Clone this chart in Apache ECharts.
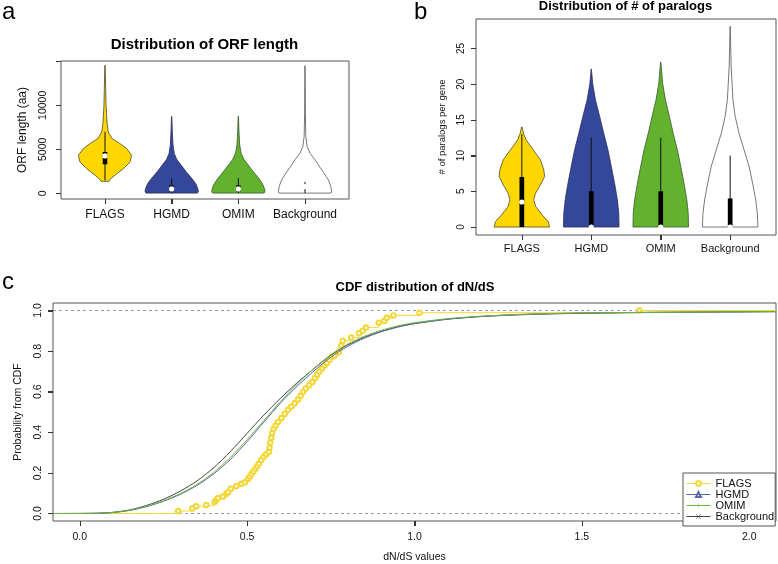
<!DOCTYPE html>
<html><head><meta charset="utf-8">
<script src="https://cdn.jsdelivr.net/npm/echarts@6/dist/echarts.min.js"></script>
<style>html,body{margin:0;padding:0;background:#fff}#c{width:778px;height:564px}</style>
</head><body><div id="c"></div>
<script>
// ---------- Panel a: ORF length ----------
const orfCategories = ['FLAGS', 'HGMD', 'OMIM', 'Background'];
const orfCategoryTicks = [1, 2, 3, 4];
const orfTicks = [0, 5000, 10000, 15000];
const orfTickLabels = [0, 5000, 10000];
// [value, relative density width]
const orfFLAGS = [[1360,0.15],[1590,0.19],[2045,0.37],[2800,0.69],[3560,0.94],[4320,1.0],[5080,0.81],[5650,0.56],[6210,0.27],[6970,0.12],[8100,0.075],[10000,0.04],[11890,0.025],[14540,0.008]];
const orfHGMD = [[20,0.96],[150,1.0],[530,0.98],[1100,0.9],[1670,0.76],[2420,0.55],[3180,0.36],[3800,0.2],[4500,0.1],[5500,0.05],[7000,0.025],[8750,0.005]];
const orfOMIM = [[20,0.96],[150,1.0],[530,0.98],[1100,0.9],[1670,0.77],[2420,0.57],[3180,0.38],[3800,0.22],[4500,0.11],[5500,0.05],[7000,0.025],[8750,0.005]];
const orfBackground = [[20,0.97],[150,1.0],[760,0.97],[1500,0.88],[2270,0.72],[3000,0.55],[3790,0.38],[4500,0.2],[5300,0.08],[6500,0.03],[9000,0.015],[12000,0.008],[14500,0.003]];
const orfQ1 = [3300, 200, 200, 700];
const orfQ3 = [4700, 900, 900, 800];
const orfMedian = [4250, 490, 490, 760];
const orfWhiskerLow = [1450, 20, 20, 20];
const orfWhiskerHigh = [7000, 1700, 1700, 1300];

// ---------- Panel b: paralogs ----------
const parCategories = ['FLAGS', 'HGMD', 'OMIM', 'Background'];
const parCategoryTicks = [1, 2, 3, 4];
const parTicks = [0, 5, 10, 15, 20, 25];
const parFLAGS = [[0,1.0],[0.75,0.95],[1.7,0.73],[2.85,0.5],[3.8,0.43],[4.7,0.49],[5.9,0.67],[7.06,0.82],[8.0,0.79],[9.4,0.67],[10.8,0.41],[12.2,0.15],[13.1,0.06],[14.0,0.01]];
const parHGMD = [[0,1.0],[1.9,0.99],[3.8,0.94],[6.1,0.84],[8.5,0.72],[10.8,0.6],[13.1,0.45],[15.5,0.3],[17.8,0.15],[20.1,0.05],[22.1,0.005]];
const parOMIM = [[0,1.0],[1.9,0.99],[3.8,0.94],[6.1,0.84],[8.5,0.72],[10.8,0.6],[13.1,0.45],[15.5,0.31],[17.8,0.17],[20.1,0.07],[23.1,0.005]];
const parBackground = [[0,1.0],[1.9,0.98],[3.8,0.92],[6.1,0.81],[8.5,0.68],[10.8,0.5],[13.1,0.32],[15.5,0.18],[17.8,0.1],[22.5,0.035],[28.1,0.003]];
const parQ1 = [0, 0, 0, 0];
const parQ3 = [7, 5, 5, 4];
const parMedian = [3.5, 0, 0, 0];
const parWhiskerLow = [0, 0, 0, 0];
const parWhiskerHigh = [13, 12.5, 12.5, 10];

// ---------- Panel c: CDF of dN/dS ----------
const cdfSeriesNames = ['FLAGS', 'HGMD', 'OMIM', 'Background'];
const cdfXTicks = [0, 0.5, 1.0, 1.5, 2.0];
const cdfYTicks = [0, 0.2, 0.4, 0.6, 0.8, 1.0];
const cdfRefLines = [0, 1];
const cdfFLAGS = [[-0.08,0],[0.294,0.012],[0.336,0.024],[0.348,0.036],[0.378,0.042],[0.403,0.057],[0.408,0.068],[0.413,0.076],[0.428,0.084],[0.438,0.097],[0.443,0.105],[0.451,0.122],[0.468,0.135],[0.483,0.146],[0.493,0.154],[0.503,0.170],[0.508,0.182],[0.513,0.195],[0.519,0.208],[0.525,0.221],[0.530,0.233],[0.535,0.246],[0.542,0.263],[0.550,0.279],[0.557,0.292],[0.565,0.303],[0.567,0.324],[0.569,0.349],[0.572,0.373],[0.575,0.397],[0.579,0.417],[0.585,0.434],[0.592,0.451],[0.602,0.470],[0.612,0.490],[0.622,0.511],[0.632,0.527],[0.642,0.543],[0.652,0.562],[0.660,0.580],[0.667,0.600],[0.675,0.616],[0.685,0.632],[0.695,0.648],[0.703,0.668],[0.709,0.684],[0.716,0.700],[0.724,0.716],[0.731,0.729],[0.738,0.742],[0.746,0.757],[0.754,0.772],[0.761,0.778],[0.774,0.794],[0.781,0.827],[0.786,0.851],[0.811,0.867],[0.834,0.888],[0.845,0.900],[0.855,0.916],[0.893,0.940],[0.910,0.948],[0.917,0.964],[0.937,0.976],[1.015,0.989],[1.672,1.0],[2.08,1.0]];
const cdfHGMD = [[-0.08,0],[0.05,0.001],[0.10,0.005],[0.15,0.015],[0.20,0.034],[0.25,0.060],[0.30,0.094],[0.35,0.138],[0.40,0.195],[0.45,0.266],[0.50,0.354],[0.55,0.450],[0.60,0.545],[0.65,0.628],[0.70,0.703],[0.75,0.770],[0.80,0.823],[0.85,0.864],[0.90,0.895],[0.95,0.918],[1.0,0.935],[1.1,0.957],[1.2,0.970],[1.3,0.978],[1.4,0.983],[1.5,0.986],[1.7,0.990],[2.0,0.993],[2.08,0.994]];
const cdfOMIM = [[-0.08,0],[0.05,0.001],[0.10,0.005],[0.15,0.016],[0.20,0.036],[0.25,0.063],[0.30,0.098],[0.35,0.143],[0.40,0.202],[0.45,0.276],[0.50,0.364],[0.55,0.458],[0.60,0.552],[0.65,0.638],[0.70,0.716],[0.75,0.782],[0.80,0.834],[0.85,0.873],[0.90,0.902],[0.95,0.924],[1.0,0.940],[1.1,0.960],[1.2,0.972],[1.3,0.980],[1.4,0.985],[1.5,0.988],[1.7,0.991],[2.0,0.994],[2.08,0.995]];
const cdfBackground = [[-0.08,0],[0.05,0.001],[0.10,0.006],[0.15,0.018],[0.20,0.040],[0.25,0.070],[0.30,0.110],[0.35,0.160],[0.40,0.225],[0.45,0.305],[0.50,0.395],[0.55,0.485],[0.60,0.568],[0.65,0.645],[0.70,0.714],[0.75,0.780],[0.80,0.830],[0.85,0.868],[0.90,0.897],[0.95,0.920],[1.0,0.936],[1.1,0.958],[1.2,0.971],[1.3,0.979],[1.4,0.984],[1.5,0.987],[1.7,0.991],[2.0,0.994],[2.08,0.995]];

// ---------- styles ----------
const FONT = '"Liberation Sans", Arial, Helvetica, sans-serif';
const violinFills = ['#FFD700', '#34479A', '#62B22F', '#FFFFFF'];
const violinStrokes = ['#4a4a2a', '#2a2f55', '#3a5a2a', '#555555'];
const cdfColors = ['#F4D735', '#5A64AC', '#6CB83A', '#454545'];
const HALF = 0.4, BOXW = 0.034, TICK_LEN = 5;
const axisGray = '#555';

function makeViolin(profiles, q1, q3, med, wlo, whi) {
  return function (params, api) {
    const i = api.value(0);
    const k = i - 1;
    const prof = profiles[k];
    const right = prof.map(p => api.coord([i + p[1] * HALF, p[0]]));
    const left = prof.slice().reverse().map(p => api.coord([i - p[1] * HALF, p[0]]));
    const c = api.coord([i, med[k]]);
    const wl = api.coord([i, wlo[k]]), wh = api.coord([i, whi[k]]);
    const b1 = api.coord([i - BOXW, q3[k]]), b2 = api.coord([i + BOXW, q1[k]]);
    return {
      type: 'group', children: [
        { type: 'polygon', shape: { points: right.concat(left) }, style: { fill: violinFills[k], stroke: violinStrokes[k], lineWidth: 0.8 } },
        { type: 'line', shape: { x1: wl[0], y1: wl[1], x2: wh[0], y2: wh[1] }, style: { stroke: '#111', lineWidth: 1 } },
        { type: 'rect', shape: { x: b1[0], y: b1[1], width: b2[0] - b1[0], height: b2[1] - b1[1] }, style: { fill: '#000' } },
        { type: 'circle', shape: { cx: c[0], cy: c[1], r: 2.6 }, style: { fill: '#fff' } }
      ]
    };
  };
}

// outward R-style tick marks placed through the axis scale
function tickSeries(xi, yi, values, dir) {
  return {
    type: 'custom', xAxisIndex: xi, yAxisIndex: yi, silent: true, clip: false, z: 3,
    data: values.map(v => dir === 'x' ? [v, 0] : [0, v]),
    renderItem: function (params, api) {
      const cs = params.coordSys;
      if (dir === 'x') {
        const px = Math.round(api.coord([api.value(0), 0])[0]) + 0.5;
        const yb = cs.y + cs.height;
        return { type: 'line', shape: { x1: px, y1: yb, x2: px, y2: yb + TICK_LEN }, style: { stroke: '#333', lineWidth: 1 } };
      }
      const py = Math.round(api.coord([0, api.value(1)])[1]) + 0.5;
      return { type: 'line', shape: { x1: cs.x - TICK_LEN, y1: py, x2: cs.x, y2: py }, style: { stroke: '#333', lineWidth: 1 } };
    }
  };
}

function catXAxis(gridIndex, cats, ticks, fontSize, margin) {
  return {
    gridIndex, type: 'value', min: 0.34, max: 4.66,
    splitLine: { show: false }, axisLine: { show: false, onZero: false },
    axisTick: { show: true, customValues: ticks, length: TICK_LEN, lineStyle: { color: '#333' } },
    axisLabel: { customValues: ticks, formatter: v => cats[Math.round(v) - 1], fontSize, margin, color: '#111', fontFamily: FONT }
  };
}

const option = {
  backgroundColor: '#fff',
  animation: false,
  textStyle: { fontFamily: FONT },
  grid: [
    { left: 61, top: 61, width: 288, height: 138, show: true, borderColor: axisGray, borderWidth: 1, backgroundColor: 'transparent' },
    { left: 476, top: 19, width: 300, height: 216, show: true, borderColor: axisGray, borderWidth: 1, backgroundColor: 'transparent' },
    { left: 53, top: 303, width: 723, height: 221, show: true, borderColor: axisGray, borderWidth: 1, backgroundColor: 'transparent' }
  ],
  xAxis: [
    catXAxis(0, orfCategories, orfCategoryTicks, 12, 10),
    catXAxis(1, parCategories, parCategoryTicks, 11, 8),
    {
      gridIndex: 2, type: 'value', min: -0.08, max: 2.08,
      splitLine: { show: false }, axisLine: { show: false, onZero: false },
      axisTick: { show: true, customValues: cdfXTicks, length: TICK_LEN, lineStyle: { color: '#333' } },
      axisLabel: { customValues: cdfXTicks, formatter: v => v.toFixed(1), fontSize: 10.5, margin: 11, color: '#111' },
      name: 'dN/dS values', nameLocation: 'middle', nameGap: 31, nameTextStyle: { fontSize: 10.5, color: '#111' }
    }
  ],
  yAxis: [
    {
      gridIndex: 0, type: 'value', min: -650, max: 15040,
      splitLine: { show: false }, axisLine: { show: false, onZero: false },
      axisTick: { show: true, customValues: orfTicks, length: TICK_LEN, lineStyle: { color: '#333' } },
      axisLabel: { customValues: orfTickLabels, formatter: v => String(v), rotate: 90, fontSize: 10.5, margin: 12, color: '#111' },
      name: 'ORF length (aa)', nameLocation: 'middle', nameRotate: 90, nameGap: 32, nameTextStyle: { fontSize: 12, color: '#111' }
    },
    {
      gridIndex: 1, type: 'value', min: -1.12, max: 29.12,
      splitLine: { show: false }, axisLine: { show: false, onZero: false },
      axisTick: { show: true, customValues: parTicks, length: TICK_LEN, lineStyle: { color: '#333' } },
      axisLabel: { customValues: parTicks, formatter: v => String(v), rotate: 90, fontSize: 10, margin: 10, color: '#111' },
      name: '# of paralogs per gene', nameLocation: 'middle', nameRotate: 90, nameGap: 29, nameTextStyle: { fontSize: 9.5, color: '#111' }
    },
    {
      gridIndex: 2, type: 'value', min: -0.037, max: 1.037,
      splitLine: { show: false }, axisLine: { show: false, onZero: false },
      axisTick: { show: true, customValues: cdfYTicks, length: TICK_LEN, lineStyle: { color: '#333' } },
      axisLabel: { customValues: cdfYTicks, formatter: v => v.toFixed(1), rotate: 90, fontSize: 10.5, margin: 9, color: '#111' },
      name: 'Probability from CDF', nameLocation: 'middle', nameRotate: 90, nameGap: 29, nameTextStyle: { fontSize: 10.5, color: '#111' }
    }
  ],
  legend: {
    data: cdfSeriesNames, orient: 'vertical', left: 683, top: 473, z: 20,
    itemWidth: 24, itemHeight: 6, itemGap: 0, padding: [5, 1, 4, 3],
    backgroundColor: '#fff', borderColor: axisGray, borderWidth: 1, borderRadius: 0,
    selectedMode: false,
    lineStyle: { width: 1 },
    itemStyle: { borderWidth: 1 },
    textStyle: { fontSize: 11, lineHeight: 10, color: '#111', fontFamily: FONT }
  },
  graphic: [
    { type: 'text', x: 2, y: 12, style: { text: 'a', font: '24px ' + FONT, fill: '#000', align: 'left', verticalAlign: 'middle' } },
    { type: 'text', x: 414, y: 12, style: { text: 'b', font: '24px ' + FONT, fill: '#000', align: 'left', verticalAlign: 'middle' } },
    { type: 'text', x: 2, y: 282, style: { text: 'c', font: '24px ' + FONT, fill: '#000', align: 'left', verticalAlign: 'middle' } },
    { type: 'text', x: 204.5, y: 44.5, style: { text: 'Distribution of ORF length', font: 'bold 15px ' + FONT, fill: '#000', align: 'center', verticalAlign: 'middle' } },
    { type: 'text', x: 625.5, y: 6, style: { text: 'Distribution of # of paralogs', font: 'bold 13px ' + FONT, fill: '#000', align: 'center', verticalAlign: 'middle' } },
    { type: 'text', x: 415, y: 287, style: { text: 'CDF distribution of dN/dS', font: 'bold 13px ' + FONT, fill: '#000', align: 'center', verticalAlign: 'middle' } }
  ],
  series: [
    {
      type: 'custom', xAxisIndex: 0, yAxisIndex: 0,
      renderItem: makeViolin([orfFLAGS, orfHGMD, orfOMIM, orfBackground], orfQ1, orfQ3, orfMedian, orfWhiskerLow, orfWhiskerHigh),
      data: orfCategories.map((c, i) => [i + 1, orfMedian[i]])
    },
    {
      type: 'custom', xAxisIndex: 1, yAxisIndex: 1,
      renderItem: makeViolin([parFLAGS, parHGMD, parOMIM, parBackground], parQ1, parQ3, parMedian, parWhiskerLow, parWhiskerHigh),
      data: parCategories.map((c, i) => [i + 1, parMedian[i]])
    },
    tickSeries(0, 0, orfCategoryTicks, 'x'),
    tickSeries(0, 0, orfTicks, 'y'),
    tickSeries(1, 1, parCategoryTicks, 'x'),
    tickSeries(1, 1, parTicks, 'y'),
    tickSeries(2, 2, cdfXTicks, 'x'),
    tickSeries(2, 2, cdfYTicks, 'y'),
    {
      name: 'Background', type: 'line', xAxisIndex: 2, yAxisIndex: 2,
      data: cdfBackground, smooth: 0.25, showSymbol: false,
      symbol: 'path://M0,1.2L1.2,0L10,8.8L18.8,0L20,1.2L11.2,10L20,18.8L18.8,20L10,11.2L1.2,20L0,18.8L8.8,10Z', symbolSize: 6,
      color: cdfColors[3], lineStyle: { width: 1, color: cdfColors[3] }
    },
    {
      name: 'HGMD', type: 'line', xAxisIndex: 2, yAxisIndex: 2,
      data: cdfHGMD, smooth: 0.25, showSymbol: false,
      symbol: 'emptyTriangle', symbolSize: 6,
      color: cdfColors[1], lineStyle: { width: 1, color: cdfColors[1] }
    },
    {
      name: 'OMIM', type: 'line', xAxisIndex: 2, yAxisIndex: 2,
      data: cdfOMIM, smooth: 0.25, showSymbol: false,
      symbol: 'path://M9.2,0H10.8V9.2H20V10.8H10.8V20H9.2V10.8H0V9.2H9.2Z', symbolSize: 7,
      color: cdfColors[2], lineStyle: { width: 1, color: cdfColors[2] }
    },
    {
      name: 'FLAGS', type: 'line', xAxisIndex: 2, yAxisIndex: 2, step: 'end',
      data: cdfFLAGS.map((p, i) => (i === 0 || i === cdfFLAGS.length - 1) ? { value: p, symbol: 'none' } : p),
      symbol: 'emptyCircle', symbolSize: 4.5, showSymbol: true,
      color: cdfColors[0], itemStyle: { color: cdfColors[0], borderWidth: 0.8 }, lineStyle: { width: 1, color: cdfColors[0] },
      markLine: {
        silent: true, symbol: ['none', 'none'], label: { show: false }, z: 1,
        lineStyle: { type: [3, 3], color: '#999', width: 1 },
        data: cdfRefLines.map(v => ({ yAxis: v }))
      },
      z: 1
    }
  ]
};
const chart = echarts.init(document.getElementById('c'), null, { renderer: 'canvas' });
chart.setOption(option);
</script></body></html>
